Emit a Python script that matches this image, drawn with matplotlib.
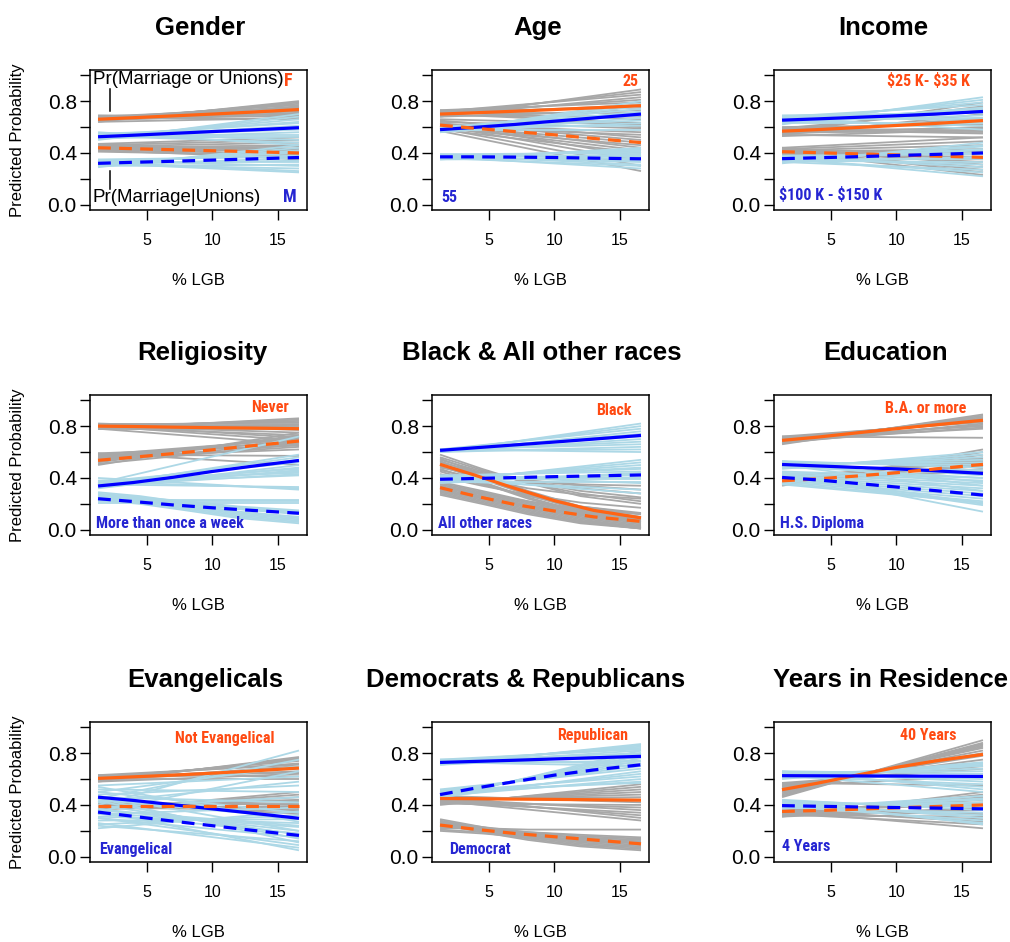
import matplotlib
matplotlib.use("Agg")
import matplotlib.pyplot as plt

# ---------------------------------------------------------------------------
# x grids (% LGB)
# ---------------------------------------------------------------------------
X_MAIN = [1.3, 4.0, 7.0, 10.0, 13.0, 16.6]   # grid of the four summary curves
X_END = [1.3, 16.6]                          # bundle lines given by end points
X_MID = [1.3, 4.5, 8.0, 12.0, 16.6]          # bundle lines that bend

# ---------------------------------------------------------------------------
# Gender
# ---------------------------------------------------------------------------
GENDER_OR_SOLID = [0.660, 0.672, 0.686, 0.700, 0.715, 0.735]
GENDER_OR_DASH = [0.440, 0.433, 0.425, 0.417, 0.410, 0.400]
GENDER_BL_SOLID = [0.525, 0.537, 0.551, 0.565, 0.578, 0.595]
GENDER_BL_DASH = [0.320, 0.328, 0.336, 0.345, 0.354, 0.365]
GENDER_GRAY_SOLID = [[0.64, 0.80], [0.65, 0.79], [0.66, 0.78], [0.67, 0.77], [0.65, 0.76],
                     [0.68, 0.75], [0.66, 0.74], [0.67, 0.72], [0.65, 0.71], [0.68, 0.70],
                     [0.66, 0.69], [0.69, 0.68], [0.64, 0.67], [0.67, 0.66]]
GENDER_GRAY_DASH = [[0.47, 0.52], [0.46, 0.50], [0.45, 0.48], [0.44, 0.46], [0.43, 0.45],
                    [0.45, 0.43], [0.42, 0.42], [0.44, 0.41], [0.46, 0.40], [0.43, 0.39],
                    [0.41, 0.38], [0.45, 0.37], [0.42, 0.36], [0.44, 0.35]]
GENDER_SKY_SOLID = [[0.50, 0.70], [0.51, 0.68], [0.52, 0.66], [0.53, 0.64], [0.54, 0.63],
                    [0.52, 0.61], [0.55, 0.59], [0.53, 0.58], [0.51, 0.56], [0.54, 0.54],
                    [0.52, 0.52], [0.55, 0.50], [0.53, 0.48], [0.56, 0.46]]
GENDER_SKY_DASH = [[0.29, 0.46], [0.30, 0.44], [0.31, 0.42], [0.32, 0.41], [0.33, 0.40],
                   [0.34, 0.38], [0.35, 0.37], [0.31, 0.36], [0.32, 0.34], [0.33, 0.33],
                   [0.30, 0.31], [0.34, 0.30], [0.31, 0.28], [0.33, 0.26], [0.32, 0.25]]

# ---------------------------------------------------------------------------
# Age
# ---------------------------------------------------------------------------
AGE_OR_SOLID = [0.700, 0.710, 0.722, 0.735, 0.748, 0.765]
AGE_OR_DASH = [0.615, 0.590, 0.565, 0.540, 0.512, 0.480]
AGE_BL_SOLID = [0.580, 0.598, 0.620, 0.645, 0.670, 0.700]
AGE_BL_DASH = [0.370, 0.370, 0.368, 0.365, 0.360, 0.355]
AGE_GRAY_SOLID = [[0.68, 0.89], [0.70, 0.87], [0.72, 0.85], [0.69, 0.83], [0.71, 0.81],
                  [0.73, 0.79], [0.70, 0.77], [0.72, 0.75], [0.68, 0.73], [0.71, 0.71],
                  [0.69, 0.68], [0.72, 0.66], [0.70, 0.63], [0.73, 0.60]]
AGE_GRAY_DASH = [[0.66, 0.62], [0.64, 0.59], [0.62, 0.56], [0.60, 0.54], [0.65, 0.52],
                 [0.63, 0.50], [0.61, 0.48], [0.59, 0.46], [0.62, 0.44], [0.60, 0.42],
                 [0.58, 0.40], [0.63, 0.37], [0.61, 0.34], [0.59, 0.30], [0.57, 0.26]]
AGE_SKY_SOLID = [[0.56, 0.80], [0.57, 0.78], [0.58, 0.76], [0.59, 0.74], [0.57, 0.72],
                 [0.60, 0.71], [0.58, 0.69], [0.56, 0.67], [0.59, 0.65], [0.57, 0.63],
                 [0.60, 0.61], [0.58, 0.58]]
AGE_SKY_DASH = [[0.35, 0.44], [0.36, 0.43], [0.37, 0.42], [0.38, 0.41], [0.39, 0.40],
                [0.36, 0.39], [0.37, 0.38], [0.38, 0.37], [0.35, 0.36], [0.39, 0.35],
                [0.36, 0.34], [0.37, 0.33], [0.38, 0.31], [0.36, 0.30], [0.37, 0.28]]

# ---------------------------------------------------------------------------
# Income
# ---------------------------------------------------------------------------
INCOME_OR_SOLID = [0.568, 0.580, 0.596, 0.612, 0.628, 0.650]
INCOME_OR_DASH = [0.410, 0.402, 0.393, 0.385, 0.376, 0.366]
INCOME_BL_SOLID = [0.653, 0.663, 0.675, 0.687, 0.700, 0.720]
INCOME_BL_DASH = [0.356, 0.363, 0.371, 0.380, 0.389, 0.400]
INCOME_GRAY_SOLID = [[0.55, 0.79], [0.57, 0.76], [0.59, 0.73], [0.54, 0.70], [0.56, 0.67],
                     [0.58, 0.64], [0.60, 0.62], [0.55, 0.60], [0.57, 0.59], [0.53, 0.58],
                     [0.59, 0.57], [0.56, 0.56], [0.58, 0.55], [0.54, 0.52]]
INCOME_GRAY_DASH = [[0.44, 0.52], [0.43, 0.49], [0.42, 0.46], [0.41, 0.43], [0.40, 0.41],
                    [0.43, 0.39], [0.39, 0.37], [0.42, 0.35], [0.41, 0.33], [0.44, 0.31],
                    [0.40, 0.29], [0.42, 0.27], [0.43, 0.25], [0.41, 0.23]]
INCOME_SKY_SOLID = [[0.62, 0.83], [0.64, 0.81], [0.66, 0.79], [0.68, 0.77], [0.63, 0.75],
                    [0.65, 0.74], [0.67, 0.72], [0.69, 0.71], [0.64, 0.69], [0.66, 0.67],
                    [0.68, 0.65], [0.63, 0.63], [0.65, 0.61], [0.67, 0.58]]
INCOME_SKY_DASH = [[0.32, 0.48], [0.33, 0.46], [0.34, 0.45], [0.35, 0.43], [0.36, 0.42],
                   [0.37, 0.40], [0.38, 0.39], [0.33, 0.37], [0.35, 0.35], [0.34, 0.33],
                   [0.36, 0.31], [0.37, 0.29], [0.33, 0.27], [0.35, 0.25], [0.36, 0.22]]

# ---------------------------------------------------------------------------
# Religiosity
# ---------------------------------------------------------------------------
RELIG_OR_SOLID = [0.800, 0.797, 0.792, 0.788, 0.785, 0.780]
RELIG_OR_DASH = [0.536, 0.560, 0.588, 0.617, 0.648, 0.685]
RELIG_BL_SOLID = [0.338, 0.365, 0.405, 0.450, 0.490, 0.535]
RELIG_BL_DASH = [0.240, 0.218, 0.192, 0.170, 0.150, 0.128]
RELIG_GRAY_SOLID = [[0.78, 0.86], [0.79, 0.85], [0.80, 0.84], [0.81, 0.83], [0.82, 0.82],
                    [0.79, 0.81], [0.80, 0.80], [0.81, 0.79], [0.78, 0.78], [0.82, 0.77],
                    [0.80, 0.75], [0.79, 0.73], [0.81, 0.71], [0.80, 0.69], [0.78, 0.66]]
RELIG_GRAY_DASH = [[0.50, 0.75], [0.52, 0.73], [0.54, 0.72], [0.56, 0.71], [0.58, 0.70],
                   [0.55, 0.69], [0.57, 0.68], [0.53, 0.67], [0.51, 0.66], [0.59, 0.65],
                   [0.54, 0.64], [0.56, 0.62], [0.58, 0.57], [0.59, 0.50]]
RELIG_SKY_SOLID = [[0.36, 0.72], [0.34, 0.58], [0.35, 0.56], [0.33, 0.54], [0.37, 0.52],
                   [0.32, 0.50], [0.34, 0.48], [0.36, 0.47], [0.33, 0.46], [0.35, 0.45],
                   [0.38, 0.44], [0.34, 0.43], [0.36, 0.42], [0.35, 0.33], [0.37, 0.32],
                   [0.40, 0.31]]
RELIG_SKY_DASH = [[0.29, 0.26, 0.21, 0.16, 0.12], [0.28, 0.25, 0.20, 0.14, 0.10],
                  [0.27, 0.24, 0.19, 0.13, 0.09], [0.26, 0.23, 0.18, 0.12, 0.08],
                  [0.25, 0.22, 0.17, 0.11, 0.07], [0.24, 0.21, 0.16, 0.10, 0.06],
                  [0.23, 0.20, 0.15, 0.09, 0.05], [0.27, 0.25, 0.22, 0.18, 0.15],
                  [0.25, 0.24, 0.21, 0.17, 0.14], [0.22, 0.22, 0.22, 0.22, 0.22],
                  [0.23, 0.23, 0.23, 0.23, 0.23], [0.21, 0.21, 0.21, 0.21, 0.21],
                  [0.26, 0.24, 0.20, 0.16, 0.13]]

# ---------------------------------------------------------------------------
# Black & All other races
# ---------------------------------------------------------------------------
RACE_OR_SOLID = [0.505, 0.420, 0.320, 0.225, 0.150, 0.092]
RACE_OR_DASH = [0.325, 0.260, 0.195, 0.145, 0.100, 0.065]
RACE_BL_SOLID = [0.613, 0.633, 0.655, 0.677, 0.700, 0.728]
RACE_BL_DASH = [0.390, 0.396, 0.403, 0.410, 0.416, 0.423]
RACE_GRAY_SOLID = [[0.58, 0.47, 0.36, 0.26, 0.20], [0.56, 0.46, 0.36, 0.28, 0.22],
                   [0.54, 0.45, 0.37, 0.30, 0.25], [0.52, 0.44, 0.37, 0.32, 0.28],
                   [0.50, 0.43, 0.38, 0.34, 0.31], [0.48, 0.42, 0.38, 0.35, 0.34],
                   [0.55, 0.43, 0.30, 0.18, 0.12], [0.53, 0.42, 0.29, 0.17, 0.10],
                   [0.51, 0.41, 0.28, 0.16, 0.09], [0.49, 0.39, 0.27, 0.15, 0.08],
                   [0.47, 0.37, 0.25, 0.14, 0.07], [0.45, 0.36, 0.24, 0.13, 0.06],
                   [0.43, 0.35, 0.26, 0.18, 0.13], [0.41, 0.34, 0.27, 0.21, 0.17],
                   [0.46, 0.39, 0.32, 0.27, 0.24]]
RACE_GRAY_DASH = [[0.37, 0.30, 0.22, 0.14, 0.09], [0.36, 0.29, 0.21, 0.13, 0.08],
                  [0.35, 0.28, 0.20, 0.12, 0.06], [0.34, 0.27, 0.19, 0.11, 0.05],
                  [0.33, 0.26, 0.18, 0.10, 0.04], [0.32, 0.25, 0.17, 0.09, 0.03],
                  [0.31, 0.24, 0.16, 0.08, 0.02], [0.30, 0.23, 0.15, 0.07, 0.02],
                  [0.29, 0.22, 0.14, 0.06, 0.01], [0.28, 0.21, 0.13, 0.06, 0.01],
                  [0.27, 0.20, 0.12, 0.05, 0.01], [0.33, 0.28, 0.22, 0.16, 0.12],
                  [0.30, 0.25, 0.18, 0.12, 0.07]]
RACE_SKY_SOLID = [[0.60, 0.82], [0.61, 0.80], [0.62, 0.78], [0.60, 0.76], [0.61, 0.74],
                  [0.62, 0.72], [0.60, 0.70], [0.61, 0.68], [0.62, 0.66], [0.60, 0.64],
                  [0.61, 0.62], [0.62, 0.60]]
RACE_SKY_DASH = [[0.37, 0.54], [0.38, 0.52], [0.39, 0.50], [0.40, 0.48], [0.41, 0.47],
                 [0.42, 0.45], [0.36, 0.44], [0.38, 0.43], [0.40, 0.42], [0.41, 0.40],
                 [0.39, 0.39], [0.37, 0.37], [0.42, 0.36], [0.38, 0.31], [0.40, 0.28]]

# ---------------------------------------------------------------------------
# Education
# ---------------------------------------------------------------------------
EDU_OR_SOLID = [0.690, 0.715, 0.748, 0.780, 0.810, 0.845]
EDU_OR_DASH = [0.378, 0.393, 0.415, 0.440, 0.470, 0.505]
EDU_BL_SOLID = [0.504, 0.493, 0.481, 0.470, 0.455, 0.435]
EDU_BL_DASH = [0.404, 0.385, 0.358, 0.330, 0.302, 0.268]
EDU_GRAY_SOLID = [[0.66, 0.89], [0.67, 0.88], [0.68, 0.87], [0.69, 0.86], [0.70, 0.85],
                  [0.71, 0.84], [0.72, 0.83], [0.67, 0.82], [0.69, 0.81], [0.71, 0.80],
                  [0.68, 0.79], [0.70, 0.78], [0.72, 0.71]]
EDU_GRAY_DASH = [[0.34, 0.62], [0.35, 0.60], [0.36, 0.58], [0.37, 0.56], [0.38, 0.55],
                 [0.39, 0.54], [0.40, 0.53], [0.41, 0.52], [0.35, 0.51], [0.37, 0.50],
                 [0.39, 0.49], [0.36, 0.47], [0.38, 0.45]]
EDU_SKY_SOLID = [[0.47, 0.60], [0.48, 0.58], [0.49, 0.56], [0.50, 0.54], [0.51, 0.52],
                 [0.52, 0.50], [0.53, 0.48], [0.48, 0.46], [0.50, 0.44], [0.52, 0.42],
                 [0.49, 0.40], [0.51, 0.37], [0.53, 0.34], [0.50, 0.30]]
EDU_SKY_DASH = [[0.45, 0.40], [0.44, 0.38], [0.43, 0.36], [0.42, 0.34], [0.41, 0.32],
                [0.40, 0.30], [0.39, 0.28], [0.38, 0.26], [0.37, 0.24], [0.36, 0.22],
                [0.35, 0.21], [0.43, 0.20], [0.41, 0.19], [0.44, 0.14]]

# ---------------------------------------------------------------------------
# Evangelicals
# ---------------------------------------------------------------------------
EVAN_OR_SOLID = [0.605, 0.617, 0.630, 0.645, 0.662, 0.685]
EVAN_OR_DASH = [0.390, 0.390, 0.390, 0.390, 0.390, 0.390]
EVAN_BL_SOLID = [0.460, 0.435, 0.402, 0.370, 0.337, 0.297]
EVAN_BL_DASH = [0.345, 0.312, 0.275, 0.240, 0.205, 0.165]
EVAN_GRAY_SOLID = [[0.58, 0.77], [0.59, 0.76], [0.60, 0.75], [0.61, 0.74], [0.62, 0.72],
                   [0.63, 0.71], [0.59, 0.70], [0.61, 0.68], [0.60, 0.66], [0.62, 0.65],
                   [0.58, 0.64], [0.63, 0.62], [0.60, 0.60]]
EVAN_GRAY_DASH = [[0.36, 0.50], [0.37, 0.48], [0.38, 0.46], [0.39, 0.44], [0.40, 0.43],
                  [0.41, 0.41], [0.42, 0.40], [0.37, 0.39], [0.39, 0.38], [0.41, 0.37],
                  [0.38, 0.36], [0.40, 0.35], [0.42, 0.33]]
EVAN_SKY_SOLID = [[0.40, 0.82], [0.45, 0.75], [0.50, 0.70], [0.35, 0.66], [0.55, 0.62],
                  [0.42, 0.58], [0.48, 0.55], [0.52, 0.50], [0.38, 0.46], [0.46, 0.42],
                  [0.33, 0.38], [0.50, 0.34], [0.44, 0.30], [0.54, 0.27], [0.36, 0.24],
                  [0.47, 0.20], [0.30, 0.15]]
EVAN_SKY_DASH = [[0.22, 0.35], [0.25, 0.32], [0.28, 0.29], [0.31, 0.26], [0.34, 0.23],
                 [0.37, 0.20], [0.40, 0.17], [0.43, 0.14], [0.45, 0.11], [0.30, 0.09],
                 [0.26, 0.07], [0.35, 0.05], [0.24, 0.12], [0.33, 0.18]]

# ---------------------------------------------------------------------------
# Democrats & Republicans
# ---------------------------------------------------------------------------
PARTY_OR_SOLID = [0.450, 0.448, 0.445, 0.443, 0.440, 0.437]
PARTY_OR_DASH = [0.245, 0.212, 0.180, 0.155, 0.130, 0.100]
PARTY_BL_SOLID = [0.728, 0.736, 0.745, 0.755, 0.764, 0.775]
PARTY_BL_DASH = [0.480, 0.530, 0.580, 0.630, 0.670, 0.710]
PARTY_GRAY_SOLID = [[0.40, 0.56], [0.41, 0.54], [0.42, 0.52], [0.43, 0.50], [0.44, 0.48],
                    [0.45, 0.46], [0.46, 0.44], [0.47, 0.42], [0.41, 0.40], [0.43, 0.38],
                    [0.45, 0.36], [0.42, 0.34], [0.44, 0.32], [0.46, 0.30], [0.43, 0.28]]
PARTY_GRAY_DASH = [[0.29, 0.23, 0.17, 0.13, 0.10], [0.28, 0.22, 0.16, 0.11, 0.08],
                   [0.27, 0.21, 0.15, 0.10, 0.07], [0.26, 0.20, 0.14, 0.09, 0.06],
                   [0.25, 0.19, 0.13, 0.08, 0.05], [0.24, 0.21, 0.18, 0.15, 0.13],
                   [0.23, 0.21, 0.19, 0.17, 0.15], [0.22, 0.22, 0.21, 0.21, 0.21],
                   [0.21, 0.19, 0.16, 0.13, 0.11], [0.20, 0.18, 0.15, 0.12, 0.09],
                   [0.27, 0.23, 0.19, 0.16, 0.14], [0.25, 0.22, 0.18, 0.14, 0.12]]
PARTY_SKY_SOLID = [[0.71, 0.87], [0.72, 0.86], [0.73, 0.85], [0.74, 0.84], [0.75, 0.83],
                   [0.72, 0.82], [0.74, 0.80], [0.71, 0.79], [0.73, 0.78], [0.75, 0.76],
                   [0.72, 0.74], [0.74, 0.72], [0.73, 0.70]]
PARTY_SKY_DASH = [[0.45, 0.82], [0.46, 0.80], [0.47, 0.78], [0.48, 0.76], [0.49, 0.74],
                  [0.50, 0.72], [0.51, 0.70], [0.52, 0.68], [0.46, 0.66], [0.48, 0.64],
                  [0.50, 0.62], [0.47, 0.60], [0.49, 0.58], [0.51, 0.57]]

# ---------------------------------------------------------------------------
# Years in Residence
# ---------------------------------------------------------------------------
YEARS_OR_SOLID = [0.518, 0.568, 0.630, 0.690, 0.740, 0.790]
YEARS_OR_DASH = [0.350, 0.357, 0.367, 0.378, 0.388, 0.400]
YEARS_BL_SOLID = [0.626, 0.625, 0.624, 0.623, 0.622, 0.620]
YEARS_BL_DASH = [0.395, 0.390, 0.385, 0.380, 0.376, 0.370]
YEARS_GRAY_SOLID = [[0.46, 0.90], [0.47, 0.88], [0.48, 0.87], [0.49, 0.86], [0.50, 0.85],
                    [0.51, 0.84], [0.52, 0.82], [0.53, 0.80], [0.54, 0.78], [0.55, 0.75],
                    [0.56, 0.70], [0.57, 0.68], [0.55, 0.62], [0.57, 0.55]]
YEARS_GRAY_DASH = [[0.31, 0.50], [0.32, 0.48], [0.33, 0.46], [0.34, 0.44], [0.35, 0.42],
                   [0.36, 0.40], [0.31, 0.38], [0.33, 0.36], [0.35, 0.33], [0.32, 0.31],
                   [0.34, 0.29], [0.36, 0.27], [0.33, 0.25], [0.35, 0.22]]
YEARS_SKY_SOLID = [[0.60, 0.73], [0.61, 0.72], [0.62, 0.71], [0.63, 0.70], [0.64, 0.68],
                   [0.65, 0.66], [0.66, 0.64], [0.61, 0.62], [0.63, 0.60], [0.65, 0.58],
                   [0.62, 0.56], [0.64, 0.54], [0.66, 0.52], [0.63, 0.50]]
YEARS_SKY_DASH = [[0.37, 0.47], [0.38, 0.45], [0.39, 0.44], [0.40, 0.42], [0.41, 0.41],
                  [0.42, 0.39], [0.43, 0.38], [0.44, 0.36], [0.38, 0.34], [0.40, 0.32],
                  [0.42, 0.30], [0.39, 0.28], [0.41, 0.26], [0.43, 0.25]]

# ---------------------------------------------------------------------------
# Panel titles and group labels
# ---------------------------------------------------------------------------
TITLES = ["Gender", "Age", "Income",
          "Religiosity", "Black & All other races", "Education",
          "Evangelicals", "Democrats & Republicans", "Years in Residence"]
ORANGE_LABELS = ["F", "25", "$25 K- $35 K", "Never", "Black", "B.A. or more",
                 "Not Evangelical", "Republican", "40 Years"]
BLUE_LABELS = ["M", "55", "$100 K - $150 K", "More than once a week", "All other races",
               "H.S. Diploma", "Evangelical", "Democrat", "4 Years"]

Y_TICKS = [0.0, 0.2, 0.4, 0.6, 0.8, 1.0]
Y_TICK_LABELS = ["0.0", "", "0.4", "", "0.8", ""]
X_TICKS = [5, 10, 15]

# ---------------------------------------------------------------------------
# Styling
# ---------------------------------------------------------------------------
ORANGE = "#FF6414"
BLUE = "#0000FF"
ORANGE_TXT = "#FF4A12"
BLUE_TXT = "#2525D2"
GRAY = "#A8A8A8"
SKY = "#ADD8E6"
NARROW = ["Roboto Condensed", "DejaVu Sans"]

plt.rcParams["font.family"] = ["Liberation Sans", "DejaVu Sans"]

# title and label placement in axes fractions
TITLE_X = [0.507, 0.488, 0.503, 0.516, 0.507, 0.516, 0.530, 0.433, 0.535]
ORANGE_POS = [(0.912, 0.92), (0.915, 0.92), (0.71, 0.92), (0.83, 0.91), (0.84, 0.89),
              (0.70, 0.905), (0.62, 0.885), (0.74, 0.905), (0.71, 0.905)]
BLUE_POS = [(0.92, 0.09), (0.08, 0.09), (0.26, 0.11), (0.37, 0.085), (0.245, 0.08),
            (0.22, 0.085), (0.21, 0.09), (0.22, 0.09), (0.15, 0.11)]

panels = [
    (GENDER_OR_SOLID, GENDER_OR_DASH, GENDER_BL_SOLID, GENDER_BL_DASH,
     GENDER_GRAY_SOLID, GENDER_GRAY_DASH, GENDER_SKY_SOLID, GENDER_SKY_DASH),
    (AGE_OR_SOLID, AGE_OR_DASH, AGE_BL_SOLID, AGE_BL_DASH,
     AGE_GRAY_SOLID, AGE_GRAY_DASH, AGE_SKY_SOLID, AGE_SKY_DASH),
    (INCOME_OR_SOLID, INCOME_OR_DASH, INCOME_BL_SOLID, INCOME_BL_DASH,
     INCOME_GRAY_SOLID, INCOME_GRAY_DASH, INCOME_SKY_SOLID, INCOME_SKY_DASH),
    (RELIG_OR_SOLID, RELIG_OR_DASH, RELIG_BL_SOLID, RELIG_BL_DASH,
     RELIG_GRAY_SOLID, RELIG_GRAY_DASH, RELIG_SKY_SOLID, RELIG_SKY_DASH),
    (RACE_OR_SOLID, RACE_OR_DASH, RACE_BL_SOLID, RACE_BL_DASH,
     RACE_GRAY_SOLID, RACE_GRAY_DASH, RACE_SKY_SOLID, RACE_SKY_DASH),
    (EDU_OR_SOLID, EDU_OR_DASH, EDU_BL_SOLID, EDU_BL_DASH,
     EDU_GRAY_SOLID, EDU_GRAY_DASH, EDU_SKY_SOLID, EDU_SKY_DASH),
    (EVAN_OR_SOLID, EVAN_OR_DASH, EVAN_BL_SOLID, EVAN_BL_DASH,
     EVAN_GRAY_SOLID, EVAN_GRAY_DASH, EVAN_SKY_SOLID, EVAN_SKY_DASH),
    (PARTY_OR_SOLID, PARTY_OR_DASH, PARTY_BL_SOLID, PARTY_BL_DASH,
     PARTY_GRAY_SOLID, PARTY_GRAY_DASH, PARTY_SKY_SOLID, PARTY_SKY_DASH),
    (YEARS_OR_SOLID, YEARS_OR_DASH, YEARS_BL_SOLID, YEARS_BL_DASH,
     YEARS_GRAY_SOLID, YEARS_GRAY_DASH, YEARS_SKY_SOLID, YEARS_SKY_DASH),
]


def draw_bundle(ax, rows, color):
    for row in rows:
        xs = X_END if len(row) == 2 else X_MID
        ax.plot(xs, row, color=color, lw=1.3, solid_capstyle="butt", zorder=1)


W, H = 1010, 942
fig = plt.figure(figsize=(W / 100, H / 100), dpi=100)
fig.patch.set_facecolor("white")

COL_LEFT = [90, 432, 774]
ROW_TOP = [70, 395, 722]
BOX_W, BOX_H = 217, 140
DASH = (0, (4.0, 2.6))

for i, data in enumerate(panels):
    r, c = divmod(i, 3)
    left = COL_LEFT[c] / W
    bottom = (H - ROW_TOP[r] - BOX_H) / H
    ax = fig.add_axes([left, bottom, BOX_W / W, BOX_H / H])

    or_solid, or_dash, bl_solid, bl_dash, g_solid, g_dash, s_solid, s_dash = data

    draw_bundle(ax, g_solid, GRAY)
    draw_bundle(ax, g_dash, GRAY)
    draw_bundle(ax, s_solid, SKY)
    draw_bundle(ax, s_dash, SKY)

    ax.plot(X_MAIN, or_solid, color=ORANGE, lw=2.3, zorder=3, solid_capstyle="butt")
    ax.plot(X_MAIN, bl_solid, color=BLUE, lw=2.3, zorder=3, solid_capstyle="butt")
    ax.plot(X_MAIN, or_dash, color=ORANGE, lw=2.3, ls=DASH, zorder=3, dash_capstyle="butt")
    ax.plot(X_MAIN, bl_dash, color=BLUE, lw=2.3, ls=DASH, zorder=3, dash_capstyle="butt")

    ax.set_xlim(0.688, 17.21)
    ax.set_ylim(-0.04, 1.04)
    ax.set_yticks(Y_TICKS)
    ax.set_yticklabels(Y_TICK_LABELS, fontsize=15)
    ax.set_xticks(X_TICKS)
    ax.set_xticklabels([str(t) for t in X_TICKS], fontsize=11.5)
    ax.tick_params(axis="both", direction="out", length=7.5, width=1.0, color="black")
    ax.tick_params(axis="y", pad=2)
    ax.tick_params(axis="x", pad=9)
    for sp in ax.spines.values():
        sp.set_linewidth(1.1)
    ax.set_xlabel("% LGB", fontsize=12, labelpad=18)
    if c == 0:
        fig.text(18 / W, (H - ROW_TOP[r] - BOX_H / 2) / H, "Predicted Probability",
                 rotation=90, ha="center", va="center", fontsize=12)

    ax.text(TITLE_X[i], 1 + 42 / BOX_H, TITLES[i], transform=ax.transAxes,
            ha="center", va="center", fontsize=18.5, fontweight="bold")

    ox, oy = ORANGE_POS[i]
    bx, by = BLUE_POS[i]
    big = 13 if i == 0 else 11.5
    ax.text(ox, oy, ORANGE_LABELS[i], transform=ax.transAxes, ha="center", va="center",
            color=ORANGE_TXT, fontsize=big, fontweight="bold", family=NARROW,
            fontstretch="condensed", parse_math=False, zorder=5)
    ax.text(bx, by, BLUE_LABELS[i], transform=ax.transAxes, ha="center", va="center",
            color=BLUE_TXT, fontsize=big, fontweight="bold", family=NARROW,
            fontstretch="condensed", parse_math=False, zorder=5)

    if i == 0:
        # the two outcome measures and their pointer ticks
        ax.text(0.012, 0.93, "Pr(Marriage or Unions)", transform=ax.transAxes,
                ha="left", va="center", fontsize=13.5, zorder=5)
        ax.text(0.012, 0.086, "Pr(Marriage|Unions)", transform=ax.transAxes,
                ha="left", va="center", fontsize=13.5, zorder=5)
        ax.plot([2.21, 2.21], [0.72, 0.89], color="black", lw=1.1, zorder=5)
        ax.plot([2.21, 2.21], [0.12, 0.26], color="black", lw=1.1, zorder=5)

fig.savefig("out.png", dpi=100, facecolor="white")
